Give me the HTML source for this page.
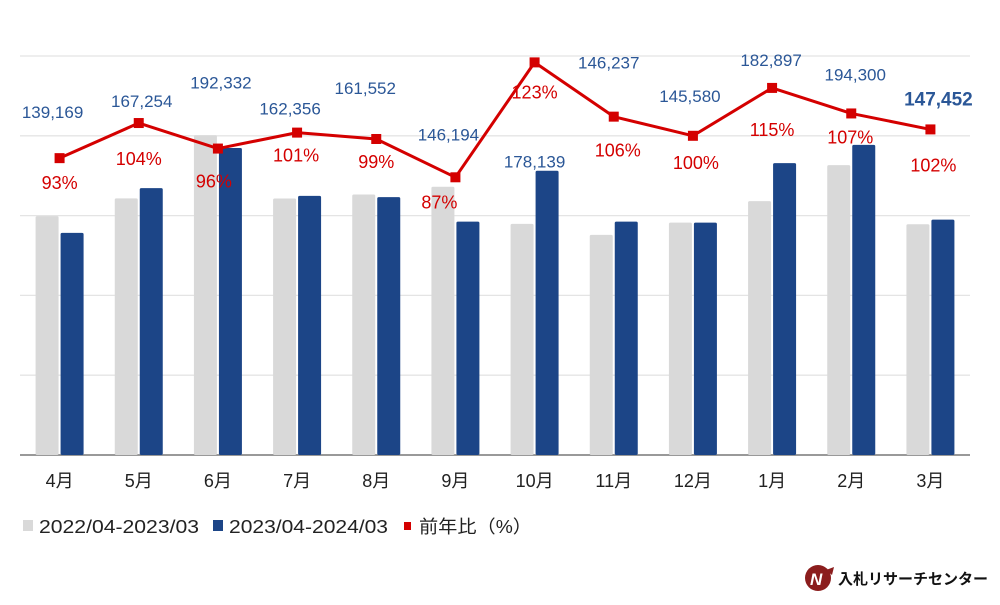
<!DOCTYPE html>
<html><head><meta charset="utf-8">
<style>
html,body{margin:0;padding:0;background:#fff;}
body{width:1000px;height:600px;overflow:hidden;font-family:"Liberation Sans","Noto Sans CJK JP",sans-serif;}
svg text{font-family:"Liberation Sans","Noto Sans CJK JP",sans-serif;}
</style></head>
<body>
<svg id="chart" width="1000" height="600" viewBox="0 0 1000 600" xmlns="http://www.w3.org/2000/svg">
<g id="grid"></g>
<g id="bars"></g>
<g id="line"></g>
<g id="labels"></g>
<g id="xaxis"></g>
<g>
  <g>
    <rect x="23" y="520" width="10" height="11" fill="#d9d9d9"/>
    <text x="39" y="533" font-size="18" fill="#222" textLength="160" lengthAdjust="spacingAndGlyphs">2022/04-2023/03</text>
  </g>
  <g>
    <rect x="213" y="520" width="10" height="11" fill="#1c4587"/>
    <text x="229" y="533" font-size="18" fill="#222" textLength="159" lengthAdjust="spacingAndGlyphs">2023/04-2024/03</text>
  </g>
  <g>
    <rect x="404" y="522" width="7" height="8" fill="#d40000"/>
    <text x="419" y="533" font-size="18" fill="#222" textLength="113" lengthAdjust="spacingAndGlyphs">前年比（%）</text>
  </g>
</g>
<g>
  <circle cx="818" cy="578" r="13" fill="#8b1d1d"/>
  <text x="810" y="585" font-size="17" font-weight="bold" font-style="italic" fill="#fff">N</text>
  <path d="M826 570 l8 -3 l-2 8 z" fill="#8b1d1d"/>
  <text x="838" y="584" font-size="15" font-weight="bold" fill="#111">入札リサーチセンター</text>
</g>
</svg>
<script>
const months = ["4月","5月","6月","7月","8月","9月","10月","11月","12月","1月","2月","3月"];
const prevYear = [149644,160821,200346,160749,163184,168039,144828,137959,145580,159041,181589,144561];
const currYear = [139169,167254,192332,162356,161552,146194,178139,146237,145580,182897,194300,147452];
const ratio = [93,104,96,101,99,87,123,106,100,115,107,102];
const valueText = ["139,169","167,254","192,332","162,356","161,552","146,194","178,139","146,237","145,580","182,897","194,300","147,452"];
const ratioText = ["93%","104%","96%","101%","99%","87%","123%","106%","100%","115%","107%","102%"];
const yTicks = [0,50000,100000,150000,200000,250000];

const NS="http://www.w3.org/2000/svg";
const plotL=20, plotR=970, base=455, plotTop=56;
const step=(plotR-plotL)/months.length;
const xC=i=>plotL+step*(i+0.5);
const yV=v=>base-(v/250000)*(base-plotTop);
const yR=r=>base-(r/125)*(base-plotTop);
// label layout offsets (placement, not data)
const valDX=[-7,3,3,-7,-11,-7,0,-5,-3,-1,4,8], valDY=[-46,-22,-66,-24,-51,-43,99,-54,-40,-28,-39,-30];
const pctDX=[0,0,-4,-1,0,-16,0,4,3,0,-1,3], pctDY=[25,36,33,23,23,25,30,34,27,42,24,36];
function mk(tag,attrs,parent){const e=document.createElementNS(NS,tag);for(const k in attrs)e.setAttribute(k,attrs[k]);parent.appendChild(e);return e;}
const grid=document.getElementById('grid'),bars=document.getElementById('bars'),line=document.getElementById('line'),labels=document.getElementById('labels'),xaxis=document.getElementById('xaxis');
yTicks.forEach((t,i)=>{
  const l=mk('line',{x1:plotL,x2:plotR,y1:yV(t),y2:yV(t),stroke:i===0?'#999':'#e4e4e4','stroke-width':i===0?2:1.3},grid);
  
  
});
months.forEach((m,i)=>{
  const c=xC(i);
  const g=mk('rect',{x:c-24,y:yV(prevYear[i]),width:23,height:base-yV(prevYear[i]),fill:'#d9d9d9',rx:1.5},bars);
  
  
  const b=mk('rect',{x:c+1,y:yV(currYear[i]),width:23,height:base-yV(currYear[i]),fill:'#1c4587',rx:1.5},bars);
  
  
  const t=mk('text',{x:c,y:487,'font-size':18,fill:'#222','text-anchor':'middle'},xaxis);
  t.textContent=m;
  
  
});
const pts=ratio.map((r,i)=>xC(i)+','+yR(r)).join(' ');
const pl=mk('polyline',{points:pts,fill:'none',stroke:'#d40000','stroke-width':3,'stroke-linejoin':'round'},line);


ratio.forEach((r,i)=>{
  const p=mk('rect',{x:xC(i)-5,y:yR(r)-5,width:10,height:10,fill:'#d40000'},line);
  
  
  const last=i===months.length-1;
  const vt=mk('text',{x:xC(i)+valDX[i],y:yR(r)+valDY[i]+6,'font-size':last?19:17,'font-weight':last?'bold':'normal',fill:'#2b5797','text-anchor':'middle'},labels);
  vt.textContent=valueText[i];
  
  
  const pt=mk('text',{x:xC(i)+pctDX[i],y:yR(r)+pctDY[i]+6,'font-size':18,fill:'#d40000','text-anchor':'middle'},labels);
  pt.textContent=ratioText[i];
  
  
});
</script>
</body></html>
